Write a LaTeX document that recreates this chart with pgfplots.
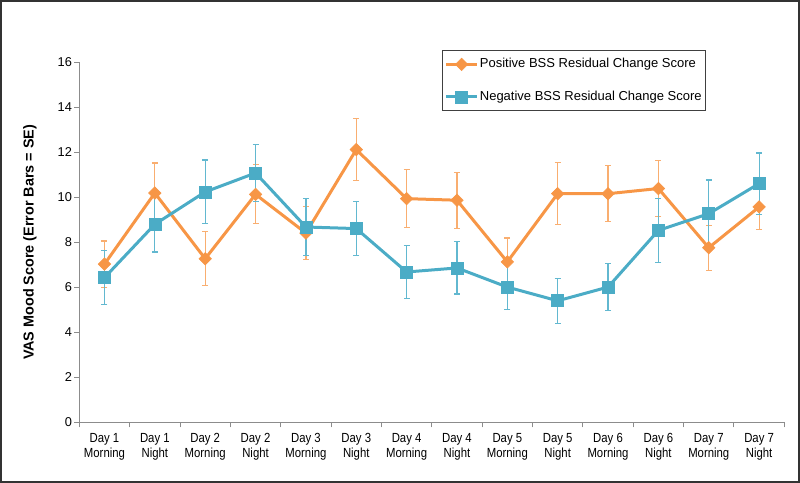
\documentclass[border=0pt]{standalone}
\usepackage{pgfplots}
\pgfplotsset{compat=1.18}
\usepackage{pgfplotstable}
\usepackage{fontspec}
\setmainfont{Liberation Sans}
\newfontfamily\narrowfont[FakeStretch=0.86]{Liberation Sans}
\definecolor{orn}{HTML}{F79646}
\definecolor{ornerr}{HTML}{F9AE70}
\definecolor{blu}{HTML}{4BACC6}
\definecolor{bluerr}{HTML}{62B8D0}
\definecolor{axgray}{HTML}{8C8C8C}

\pgfplotstableread{
x y e
0 7.03 1.03
1 10.19 1.33
2 7.27 1.20
3 10.13 1.31
4 8.41 1.17
5 12.12 1.38
6 9.94 1.30
7 9.87 1.24
8 7.13 1.06
9 10.16 1.37
10 10.16 1.25
11 10.39 1.25
12 7.76 1.00
13 9.57 1.00
}\pos
\pgfplotstableread{
x y e
0 6.43 1.20
1 8.80 1.23
2 10.24 1.42
3 11.08 1.26
4 8.68 1.26
5 8.61 1.20
6 6.68 1.17
7 6.86 1.16
8 6.01 1.00
9 5.40 1.00
10 6.01 1.04
11 8.53 1.42
12 9.27 1.50
13 10.61 1.36
}\neg

\begin{document}
\begin{tikzpicture}
\draw[line width=1pt, color=black!80] (0.5pt,0.5pt) rectangle (399.5pt,241pt);
\begin{axis}[
  at={(39.65pt,30.35pt)}, anchor=south west,
  scale only axis, width=352.5pt, height=180pt,
  xmin=-0.5, xmax=13.5, ymin=0, ymax=16,
  axis lines*=left,
  axis line style={draw=axgray, line width=0.5pt},
  tick align=outside,
  tick style={draw=axgray, line width=0.5pt},
  major tick length=2.5pt,
  ytick={0,2,...,16},
  /pgf/number format/assume math mode=true,
  yticklabel style={font=\fontsize{6.4}{7.4}\selectfont, inner sep=1pt},
  xtick={-0.5,0.5,...,13.5},
  xticklabels={},
  extra x ticks={0,1,...,13},
  extra x tick labels={{Day 1\\Morning},{Day 1\\Night},{Day 2\\Morning},{Day 2\\Night},{Day 3\\Morning},{Day 3\\Night},{Day 4\\Morning},{Day 4\\Night},{Day 5\\Morning},{Day 5\\Night},{Day 6\\Morning},{Day 6\\Night},{Day 7\\Morning},{Day 7\\Night}},
  extra x tick style={major tick length=0pt, xticklabel style={align=center, font=\narrowfont\fontsize{6.6}{7.6}\selectfont, inner sep=1pt, yshift=-4.3pt}},
  ylabel={\textbf{VAS Mood Score (Error Bars = SE)}},
  every axis y label/.style={at={(axis description cs:-0.07,0.5)}, rotate=90, anchor=center, font=\fontsize{7.2}{8}\selectfont},
  legend style={at={(rel axis cs:0.5149,1.0342)}, anchor=north west,
    draw=black!75, line width=0.6pt, font=\fontsize{6.5}{7.5}\selectfont,
    row sep=6pt, inner xsep=1pt, inner ysep=1.8pt, cells={anchor=west},
    nodes={inner xsep=0.8pt}},
  legend image code/.code={\draw[mark repeat=2,mark phase=2,#1] plot coordinates {(0pt,0pt)(7.6pt,0pt)(15.2pt,0pt)};},
  clip=false,
]
\addplot[color=orn, line width=1.5pt, mark=square*, mark size=2.2pt, mark options={rotate=45, fill=orn, draw=orn, line width=0.3pt},
  error bars/.cd, y dir=both, y explicit,
  error bar style={color=ornerr, line width=0.6pt},
  error mark options={color=ornerr, line width=0.6pt, mark size=1.5pt, rotate=90}]
  table[x=x, y=y, y error=e] {\pos};
\addlegendentry{Positive BSS Residual Change Score}
\addplot[color=blu, line width=1.5pt, mark=square*, mark size=3pt, mark options={fill=blu, draw=blu, line width=0.3pt},
  error bars/.cd, y dir=both, y explicit,
  error bar style={color=bluerr, line width=0.6pt},
  error mark options={color=bluerr, line width=0.6pt, mark size=1.5pt, rotate=90}]
  table[x=x, y=y, y error=e] {\neg};
\addlegendentry{Negative BSS Residual Change Score}
\end{axis}
\end{tikzpicture}
\end{document}
